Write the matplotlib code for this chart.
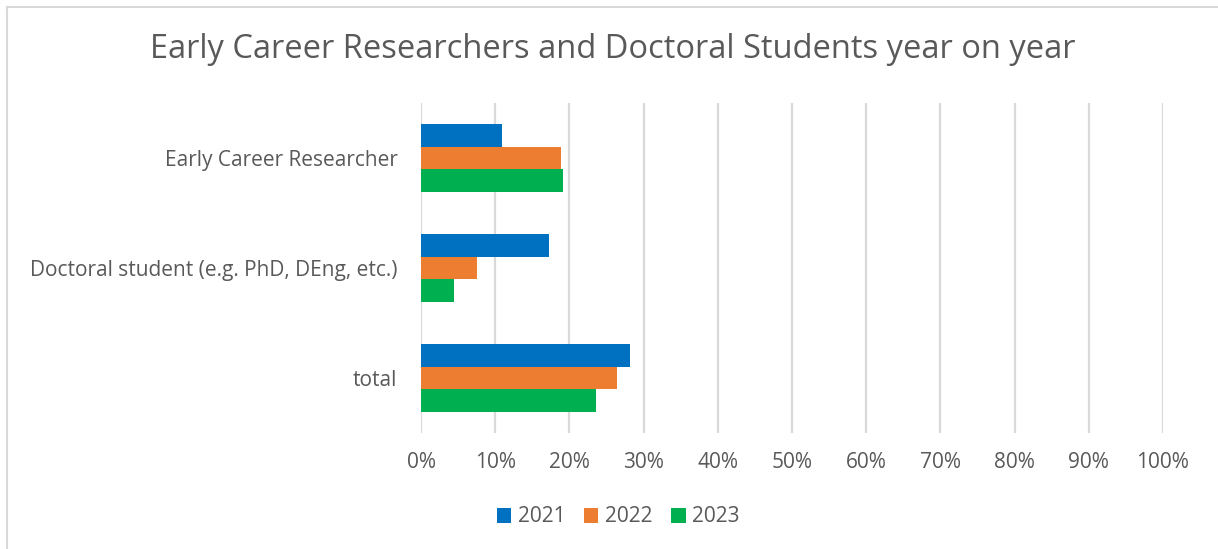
import matplotlib.pyplot as plt
import matplotlib.lines as mlines
import numpy as np

categories = ['Early Career Researcher', 'Doctoral student (e.g. PhD, DEng, etc.)', 'total']
years = ['2021', '2022', '2023']
vals_2021 = [10.9, 17.2, 28.1]
vals_2022 = [18.9, 7.5, 26.4]
vals_2023 = [19.1, 4.4, 23.6]
colours = ['#0070C0', '#ED7D31', '#00B050']
grey = '#595959'

plt.rcParams['font.family'] = ['Open Sans', 'DejaVu Sans']

W, H = 1218, 549
fig = plt.figure(figsize=(W / 100, H / 100), dpi=100)
ax = fig.add_axes([421/W, 1-433/H, (1163-421)/W, 330/H])

# chart border (only top and left edges fall inside the image)
fig.lines.append(mlines.Line2D([7/W, 1], [1-7/H, 1-7/H], transform=fig.transFigure,
                               color='#D9D9D9', linewidth=1.5))
fig.lines.append(mlines.Line2D([7/W, 7/W], [0, 1-7/H], transform=fig.transFigure,
                               color='#D9D9D9', linewidth=1.5))

y = np.arange(len(categories))
h = 0.208
series = [vals_2021, vals_2022, vals_2023]
for i, (yr, vals) in enumerate(zip(years, series)):
    ax.barh(y + (i - 1) * h, vals, height=h, color=colours[i], label=yr, zorder=3)

ax.set_xlim(0, 100)
ax.set_ylim(len(categories) - 0.5, -0.5)
ax.set_xticks(np.arange(0, 101, 10))
ax.set_xticklabels([f'{t}%' for t in range(0, 101, 10)], fontsize=15, color=grey)
ax.set_yticks(y)
ax.set_yticklabels(categories, fontsize=15, color=grey)
ax.tick_params(axis='x', length=0, pad=14)
ax.tick_params(axis='y', length=0, pad=17)
ax.grid(axis='x', color='#D9D9D9', linewidth=1.6, zorder=0)
for s in ax.spines.values():
    s.set_visible(False)

fig.text(613/W, 1-50/H, 'Early Career Researchers and Doctoral Students year on year',
         ha='center', va='center', fontsize=23.5, color=grey)

fig.legend(loc='center', bbox_to_anchor=(618/W, 1-517/H), ncol=3, frameon=False,
           fontsize=15, labelcolor=grey, handlelength=0.7, handleheight=0.7,
           handletextpad=0.3, columnspacing=0.9)

fig.savefig('out.png', dpi=100)
